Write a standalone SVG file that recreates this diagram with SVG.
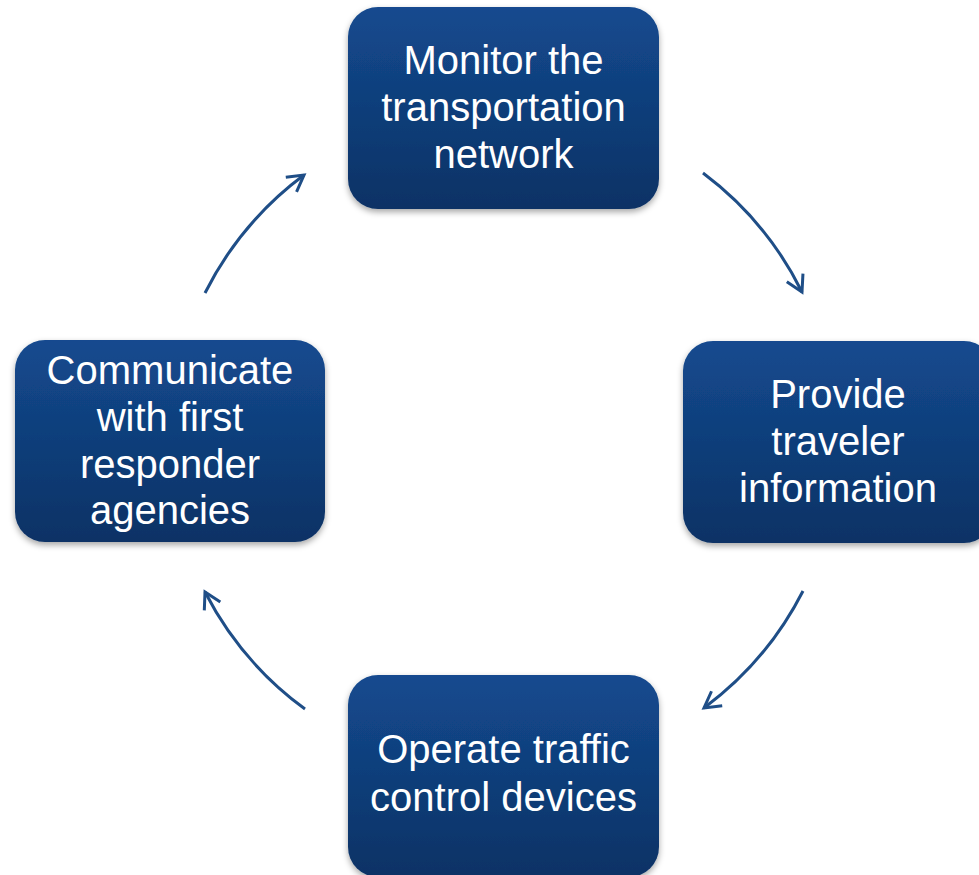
<svg xmlns="http://www.w3.org/2000/svg" width="979" height="875" viewBox="0 0 979 875">
<defs>
<linearGradient id="g" x1="0" y1="0" x2="0" y2="1">
<stop offset="0" stop-color="#144a8f"/>
<stop offset="1" stop-color="#0b3265"/>
</linearGradient>
<filter id="sh" x="-10%" y="-10%" width="120%" height="130%">
<feDropShadow dx="0" dy="3" stdDeviation="3" flood-color="#000" flood-opacity="0.35"/>
</filter>
<marker id="ah" markerUnits="userSpaceOnUse" markerWidth="30" markerHeight="30" viewBox="-20 -15 30 30" refX="0" refY="0" orient="auto">
<path d="M-16,-9 L0,0 L-16,9" fill="none" stroke="#1f4e87" stroke-width="3"/>
</marker>
<style>
.box{fill:url(#g);filter:url(#sh);}
.t{font-family:"Liberation Sans",Arial,sans-serif;font-size:40px;fill:#ffffff;text-anchor:middle;}
.c{fill:none;stroke:#1f4e87;stroke-width:3;marker-end:url(#ah);}
</style>
</defs>
<g id="connectors">
<path class="c" d="M703,173 A334,334 0 0 1 802,292"/>
<path class="c" d="M803,591 A334,334 0 0 1 704,708"/>
<path class="c" d="M305,709 A334,334 0 0 1 205,592"/>
<path class="c" d="M205,293 A334,334 0 0 1 304,175"/>
</g>
<g id="n1">
<rect class="box" x="348" y="7" width="311" height="202" rx="30"/>
<text class="t" x="503.5" y="74">Monitor the</text>
<text class="t" x="503.5" y="121">transportation</text>
<text class="t" x="503.5" y="168">network</text>
</g>
<g id="n2">
<rect class="box" x="683" y="341" width="311" height="202" rx="30"/>
<text class="t" x="838" y="408">Provide</text>
<text class="t" x="838" y="455">traveler</text>
<text class="t" x="838" y="502">information</text>
</g>
<g id="n3">
<rect class="box" x="348" y="675" width="311" height="202" rx="30"/>
<text class="t" x="503.5" y="763">Operate traffic</text>
<text class="t" x="503.5" y="811">control devices</text>
</g>
<g id="n4">
<rect class="box" x="15" y="340" width="310" height="202" rx="30"/>
<text class="t" x="170" y="384">Communicate</text>
<text class="t" x="170" y="431">with first</text>
<text class="t" x="170" y="478">responder</text>
<text class="t" x="170" y="524">agencies</text>
</g>
</svg>
